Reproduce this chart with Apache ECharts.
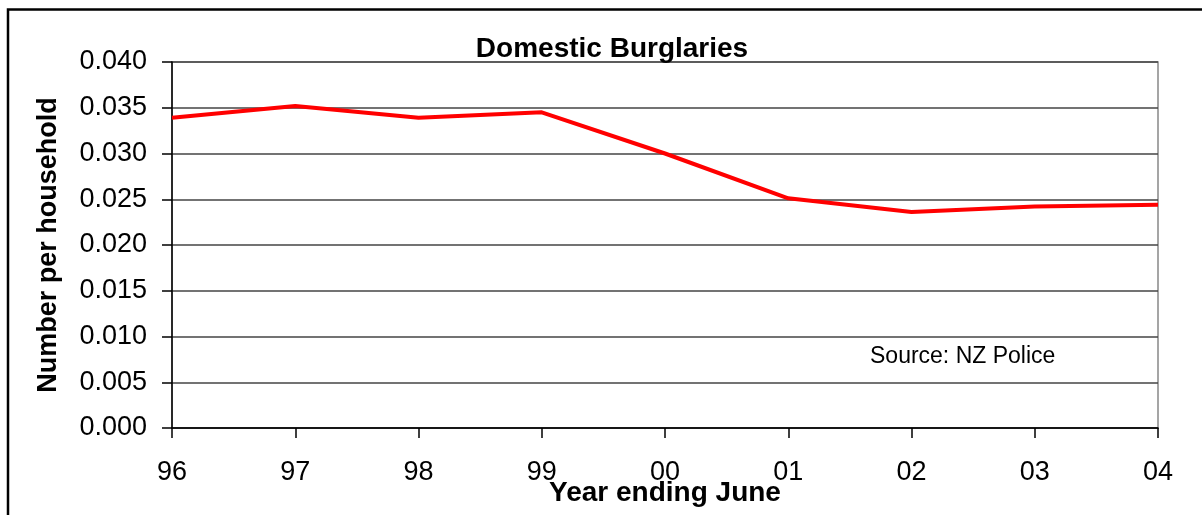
<!DOCTYPE html>
<html>
<head>
<meta charset="utf-8">
<script src="https://cdn.jsdelivr.net/npm/echarts@6/dist/echarts.min.js"></script>
<style>
  html, body { margin: 0; padding: 0; background: #fff; }
  #chart { width: 1202px; height: 515px; }
</style>
</head>
<body>
<div id="chart"></div>
<script>
const years = ['96', '97', '98', '99', '00', '01', '02', '03', '04']
const burglaries = [0.0339, 0.0352, 0.0339, 0.0345, 0.0300, 0.0251, 0.0236, 0.0242, 0.0244]

const FONT = '"Liberation Sans", Arial, sans-serif'

const chart = echarts.init(document.getElementById('chart'))

chart.setOption({
  animation: false,
  backgroundColor: '#fff',
  title: {
    text: 'Domestic Burglaries',
    left: 607,
    top: 30,
    textAlign: 'center',
    textStyle: { fontFamily: FONT, fontSize: 28, fontWeight: 'bold', color: '#000' },
  },
  grid: {
    left: 172,
    right: 44,
    top: 62,
    bottom: 87,
    outerBoundsMode: 'none',
    show: true,
    borderColor: '#888',
    borderWidth: 1.5,
  },
  xAxis: {
    type: 'category',
    data: years,
    boundaryGap: false,
    name: 'Year ending June',
    nameLocation: 'middle',
    nameGap: 51,
    nameMoveOverlap: false,
    nameTextStyle: { fontFamily: FONT, fontSize: 28, fontWeight: 'bold', color: '#000' },
    axisLine: { lineStyle: { color: '#000', width: 1.5 } },
    axisTick: { show: true, length: 10, lineStyle: { color: '#000', width: 1.5 } },
    axisLabel: { margin: 31, fontFamily: FONT, fontSize: 27, color: '#000' },
    splitLine: { show: false },
  },
  yAxis: {
    type: 'value',
    min: 0,
    max: 0.04,
    interval: 0.005,
    name: 'Number per household',
    nameLocation: 'middle',
    nameGap: 110,
    nameMoveOverlap: false,
    nameTextStyle: { fontFamily: FONT, fontSize: 27, fontWeight: 'bold', color: '#000' },
    axisLine: { show: true, lineStyle: { color: '#000', width: 1.5 } },
    axisTick: { show: true, length: 10, lineStyle: { color: '#000', width: 1.5 } },
    axisLabel: {
      margin: 25,
      fontFamily: FONT,
      fontSize: 27,
      color: '#000',
      formatter: v => v.toFixed(3),
    },
    splitLine: { lineStyle: { color: '#444', width: 1.5 } },
  },
  graphic: [
    {
      type: 'rect',
      shape: { x: 8, y: 9.5, width: 1400, height: 700 },
      style: { fill: 'none', stroke: '#000', lineWidth: 2.5 },
      silent: true,
    },
    {
      type: 'text',
      left: 870,
      top: 345,
      style: { text: 'Source: NZ Police', fontFamily: FONT, fontSize: 23, fill: '#000' },
    },
  ],
  series: [
    {
      type: 'line',
      data: burglaries,
      symbol: 'none',
      lineStyle: { color: '#ff0000', width: 4 },
    },
  ],
})
</script>
</body>
</html>
